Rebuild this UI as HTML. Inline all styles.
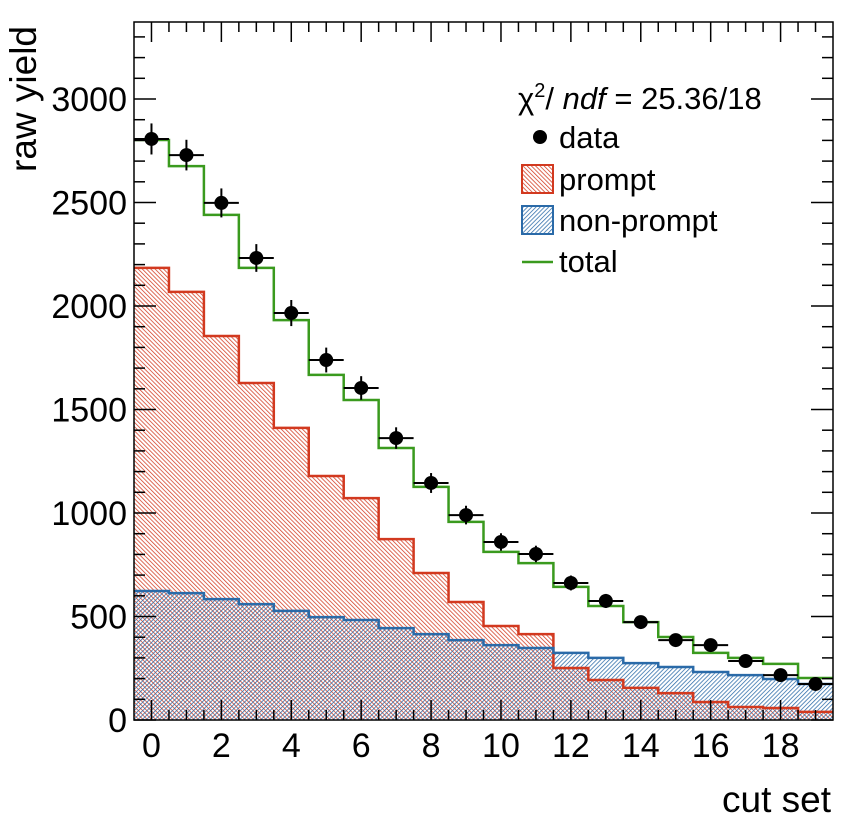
<!DOCTYPE html>
<html><head><meta charset="utf-8"><style>
body{margin:0;background:#fff;}
svg{display:block;font-family:"Liberation Sans",Arial,sans-serif;}
</style></head><body>
<svg id="chart" width="856" height="818" viewBox="0 0 856 818" xmlns="http://www.w3.org/2000/svg">
<defs>
<pattern id="hatchRed" patternUnits="userSpaceOnUse" width="3" height="3" patternTransform="rotate(-45)">
<line x1="0" y1="0" x2="0" y2="3" stroke="#d2391f" stroke-width="1.5"/>
</pattern>
<pattern id="hatchBlue" patternUnits="userSpaceOnUse" width="3" height="3" patternTransform="rotate(45)">
<line x1="0" y1="0" x2="0" y2="3" stroke="#2a6aa8" stroke-width="1.5"/>
</pattern>
</defs>
<g id="plot"></g>
</svg>
<script>
const bins = [0,1,2,3,4,5,6,7,8,9,10,11,12,13,14,15,16,17,18,19];
const promptVals = [2184,2068,1855,1628,1411,1179,1072,874,710,570,454,415,251,193,155,130,87,63,58,39];
const nonPromptVals = [623,613,584,560,527,497,483,444,415,386,362,348,324,300,275,256,232,217,198,174];
const totalVals = [2802,2676,2440,2184,1932,1667,1546,1314,1126,957,812,758,643,551,473,401,324,300,271,203];
const dataVals = [2807,2729,2498,2232,1966,1739,1604,1362,1145,990,860,802,662,575,473,386,362,285,217,174];
const dataErrs = [75,74,70,67,63,60,57,52,48,45,42,40,36,34,31,28,27,24,21,19];
const yTicks = [0,500,1000,1500,2000,2500,3000];
const xTickLabels = [0,2,4,6,8,10,12,14,16,18];

const L=134,R=833,T=22,B=720;
const xMin=-0.5,xMax=19.5,yMin=0,yMax=3372;
const X=v=>L+(v-xMin)/(xMax-xMin)*(R-L);
const Y=v=>B-(v-yMin)/(yMax-yMin)*(B-T);
const NS="http://www.w3.org/2000/svg";
const g=document.getElementById('plot');
function mk(tag,attrs){const e=document.createElementNS(NS,tag);for(const k in attrs)e.setAttribute(k,attrs[k]);g.appendChild(e);return e;}

function histPath(vals,closed){
  let d=closed?`M${X(-0.5)},${Y(0)}`:'';
  vals.forEach((v,i)=>{
    const x0=X(bins[i]-0.5),x1=X(bins[i]+0.5);
    d+=(d===''?'M':'L')+`${x0},${Y(v)}L${x1},${Y(v)}`;
  });
  if(closed)d+=`L${X(19.5)},${Y(0)}Z`;
  return d;
}
let e;
e=mk('path',{d:histPath(promptVals,true),fill:'url(#hatchRed)',stroke:'none'});


e=mk('path',{d:histPath(nonPromptVals,true),fill:'url(#hatchBlue)',stroke:'none'});


e=mk('path',{d:histPath(promptVals,false),fill:'none',stroke:'#d2391f','stroke-width':2.5});


e=mk('path',{d:histPath(nonPromptVals,false),fill:'none',stroke:'#2a6aa8','stroke-width':2.5});


e=mk('path',{d:histPath(totalVals,false),fill:'none',stroke:'#3a9a1e','stroke-width':2.5});



dataVals.forEach((v,i)=>{
  const cx=X(bins[i]),cy=Y(v),er=dataErrs[i];
  let a=mk('line',{x1:X(bins[i]-0.5),x2:X(bins[i]+0.5),y1:cy,y2:cy,stroke:'#000','stroke-width':2});
  
  
  a=mk('line',{x1:cx,x2:cx,y1:Y(v+er),y2:Y(v-er),stroke:'#000','stroke-width':2});
  
  
  a=mk('circle',{cx:cx,cy:cy,r:7,fill:'#000'});
  
  
});

e=mk('rect',{x:L,y:T,width:R-L,height:B-T,fill:'none',stroke:'#000','stroke-width':1.5});



for(let v=0;v<=3300;v+=100){
  const len=(v%500===0)?22:11,y=Y(v);
  mk('line',{x1:L,x2:L+len,y1:y,y2:y,stroke:'#000','stroke-width':1.5});
  mk('line',{x1:R,x2:R-len,y1:y,y2:y,stroke:'#000','stroke-width':1.5});
}
yTicks.forEach(v=>{
  const t=mk('text',{x:L-7,y:Y(v)+12,'text-anchor':'end','font-size':34,fill:'#000'});
  t.textContent=v;
  
  
});
for(let v=0;v<=19.01;v+=0.5){
  const len=(Math.abs(v%2)<1e-6)?20:10,x=X(v);
  mk('line',{x1:x,x2:x,y1:B,y2:B-len,stroke:'#000','stroke-width':1.5});
  mk('line',{x1:x,x2:x,y1:T,y2:T+len,stroke:'#000','stroke-width':1.5});
}
xTickLabels.forEach(v=>{
  const t=mk('text',{x:X(v),y:B+37,'text-anchor':'middle','font-size':34,fill:'#000'});
  t.textContent=v;
  
  
});
e=mk('text',{x:0,y:0,transform:'translate(36,172) rotate(-90)','font-size':37,fill:'#000'});
e.textContent='raw yield';


e=mk('text',{x:831,y:812,'text-anchor':'end','font-size':37,fill:'#000'});
e.textContent='cut set';



e=mk('text',{x:518,y:109,'font-size':31,fill:'#000'});
e.innerHTML='χ<tspan dy="-12" font-size="20">2</tspan><tspan dy="12">/ </tspan><tspan font-style="italic">ndf</tspan> = 25.36/18';


e=mk('circle',{cx:540,cy:137,r:7,fill:'#000'});


e=mk('text',{x:559,y:148,'font-size':31,fill:'#000'});e.textContent='data';


e=mk('rect',{x:522,y:165,width:31,height:28,fill:'url(#hatchRed)',stroke:'#d2391f','stroke-width':2});


e=mk('text',{x:559,y:190,'font-size':31,fill:'#000'});e.textContent='prompt';


e=mk('rect',{x:522,y:206,width:31,height:28,fill:'url(#hatchBlue)',stroke:'#2a6aa8','stroke-width':2});


e=mk('text',{x:559,y:231,'font-size':31,fill:'#000'});e.textContent='non-prompt';


e=mk('line',{x1:522,x2:553,y1:262,y2:262,stroke:'#3a9a1e','stroke-width':2.5});


e=mk('text',{x:559,y:272,'font-size':31,fill:'#000'});e.textContent='total';


</script>
</body></html>
